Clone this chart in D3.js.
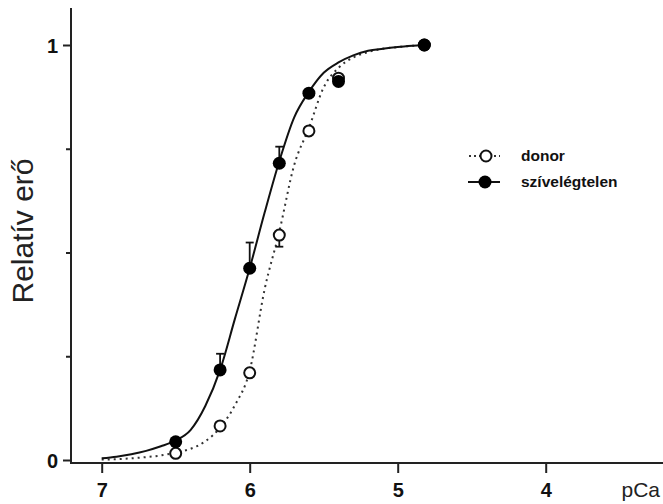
<!DOCTYPE html>
<html>
<head>
<meta charset="utf-8">
<script src="https://cdn.jsdelivr.net/npm/d3@7"></script>
<style>
  html, body { margin: 0; padding: 0; background: #fff; }
  svg { display: block; font-family: "Liberation Sans", Arial, sans-serif; }
</style>
</head>
<body>
<svg id="chart" width="663" height="504"></svg>
<script>
// ---- data ----
const seriesNames = ["donor", "szívelégtelen"];
const pCaPoints = [6.5, 6.2, 6.0, 5.8, 5.6, 5.4, 4.82];
const donorValues = [0.016, 0.082, 0.21, 0.542, 0.793, 0.92, 1.0];
const donorErrors = [0, 0, 0, 0.028, 0, 0, 0];            // drawn downward
const heartFailureValues = [0.044, 0.217, 0.462, 0.715, 0.884, 0.912, 1.0];
const heartFailureErrors = [0, 0.039, 0.062, 0.040, 0, 0, 0]; // drawn upward

// fitted curves
const curvePCa = [7.0, 6.9, 6.8, 6.7, 6.6, 6.5, 6.4, 6.3, 6.2, 6.1, 6.0, 5.9, 5.8, 5.7, 5.6, 5.5, 5.4, 5.3, 5.2, 5.1, 5.0, 4.9, 4.82];
const donorCurve = [0.001, 0.002, 0.004, 0.007, 0.011, 0.018, 0.027, 0.045, 0.078, 0.132, 0.215, 0.41, 0.55, 0.71, 0.80, 0.898, 0.945, 0.970, 0.983, 0.991, 0.995, 0.998, 1.0];
const heartFailureCurve = [0.004, 0.008, 0.014, 0.022, 0.033, 0.047, 0.072, 0.13, 0.217, 0.34, 0.462, 0.595, 0.72, 0.825, 0.887, 0.933, 0.958, 0.975, 0.986, 0.991, 0.995, 0.998, 1.0];

const xTicks = [7, 6, 5, 4];
const yMajorTicks = [0, 1];
const yMinorTicks = [0.25, 0.5, 0.75];
const xTitle = "pCa";
const yTitle = "Relatív erő";

// ---- scales ----
const svg = d3.select("#chart");
const x = d3.scaleLinear().domain([7, 4]).range([101.7, 545.7]);
const y = d3.scaleLinear().domain([0, 1]).range([460, 45]);

const axisX = 71, axisY = 463;
const ink = "#222";

// ---- axes ----
svg.append("line").attr("x1", axisX).attr("x2", axisX).attr("y1", 8).attr("y2", axisY + 1)
  .attr("stroke", ink).attr("stroke-width", 2);
svg.append("line").attr("x1", axisX).attr("x2", 663).attr("y1", axisY).attr("y2", axisY)
  .attr("stroke", ink).attr("stroke-width", 2);

const gx = svg.append("g").attr("transform", `translate(0,${axisY})`)
  .call(d3.axisBottom(x).tickValues(xTicks).tickSize(10).tickSizeOuter(0).tickFormat(d3.format("d")));
gx.select(".domain").remove();
gx.selectAll(".tick line").attr("stroke", ink).attr("stroke-width", 2);
gx.selectAll(".tick text").attr("fill", "#111").attr("font-size", 20).attr("font-weight", "bold")
  .attr("font-family", "Liberation Sans, Arial, sans-serif").attr("dy", null).attr("y", 34);

const gy = svg.append("g").attr("transform", `translate(${axisX},0)`)
  .call(d3.axisLeft(y).tickValues(yMajorTicks).tickSize(8).tickSizeOuter(0).tickFormat(d3.format("d")));
gy.select(".domain").remove();
gy.selectAll(".tick line").attr("stroke", ink).attr("stroke-width", 2);
gy.selectAll(".tick text").attr("fill", "#111").attr("font-size", 20).attr("font-weight", "bold")
  .attr("font-family", "Liberation Sans, Arial, sans-serif").attr("x", -13).attr("dy", "0.36em");

const gyMinor = svg.append("g").attr("transform", `translate(${axisX},0)`)
  .call(d3.axisLeft(y).tickValues(yMinorTicks).tickSize(5).tickSizeOuter(0).tickFormat(""));
gyMinor.select(".domain").remove();
gyMinor.selectAll(".tick line").attr("stroke", ink).attr("stroke-width", 2);

svg.append("text").attr("x", 660).attr("y", 497).attr("text-anchor", "end")
  .attr("font-size", 21).attr("fill", "#222").text(xTitle);
svg.append("text").attr("transform", "translate(33,231) rotate(-90)").attr("text-anchor", "middle")
  .attr("font-size", 30).attr("fill", "#222").text(yTitle);

// ---- curves ----
const line = d3.line().x(d => x(d[0])).y(d => y(d[1])).curve(d3.curveMonotoneX);
svg.append("path").datum(curvePCa.map((p, i) => [p, donorCurve[i]]))
  .attr("d", line).attr("fill", "none").attr("stroke", "#333").attr("stroke-width", 2)
  .attr("stroke-dasharray", "2 4");
svg.append("path").datum(curvePCa.map((p, i) => [p, heartFailureCurve[i]]))
  .attr("d", line).attr("fill", "none").attr("stroke", "#111").attr("stroke-width", 2);

// ---- error bars ----
function errorBars(vals, errs, dir) {
  const g = svg.append("g").attr("stroke", "#111").attr("stroke-width", 1.8);
  pCaPoints.forEach((p, i) => {
    if (!errs[i]) return;
    const yv = y(vals[i]), ye = y(vals[i] + dir * errs[i]);
    g.append("line").attr("x1", x(p)).attr("x2", x(p)).attr("y1", yv).attr("y2", ye);
    g.append("line").attr("x1", x(p) - 4).attr("x2", x(p) + 4).attr("y1", ye).attr("y2", ye);
  });
}
errorBars(donorValues, donorErrors, -1);
errorBars(heartFailureValues, heartFailureErrors, 1);

// ---- markers ----
svg.append("g").selectAll("circle").data(pCaPoints.map((p, i) => [p, donorValues[i]])).join("circle")
  .attr("cx", d => x(d[0])).attr("cy", d => y(d[1])).attr("r", 5.5)
  .attr("fill", "#fff").attr("stroke", "#111").attr("stroke-width", 2);
svg.append("g").selectAll("circle").data(pCaPoints.map((p, i) => [p, heartFailureValues[i]])).join("circle")
  .attr("cx", d => x(d[0])).attr("cy", d => y(d[1])).attr("r", 6.5)
  .attr("fill", "#000");

// ---- legend ----
const lg = svg.append("g");
const legendRows = [
  { name: seriesNames[0], y: 156, dotted: true },
  { name: seriesNames[1], y: 182, dotted: false }
];
legendRows.forEach(r => {
  if (r.dotted) {
    lg.append("line").attr("x1", 469).attr("x2", 500).attr("y1", r.y).attr("y2", r.y)
      .attr("stroke", "#333").attr("stroke-width", 2).attr("stroke-dasharray", "2 3");
    lg.append("circle").attr("cx", 486).attr("cy", r.y).attr("r", 5.5)
      .attr("fill", "#fff").attr("stroke", "#111").attr("stroke-width", 2);
  } else {
    lg.append("line").attr("x1", 468).attr("x2", 500).attr("y1", r.y).attr("y2", r.y)
      .attr("stroke", "#111").attr("stroke-width", 2);
    lg.append("circle").attr("cx", 485).attr("cy", r.y).attr("r", 6.5).attr("fill", "#000");
  }
  lg.append("text").attr("x", 521).attr("y", r.y + 5).attr("font-size", 15.5)
    .attr("font-weight", "bold").attr("fill", "#111").text(r.name);
});
</script>
</body>
</html>
